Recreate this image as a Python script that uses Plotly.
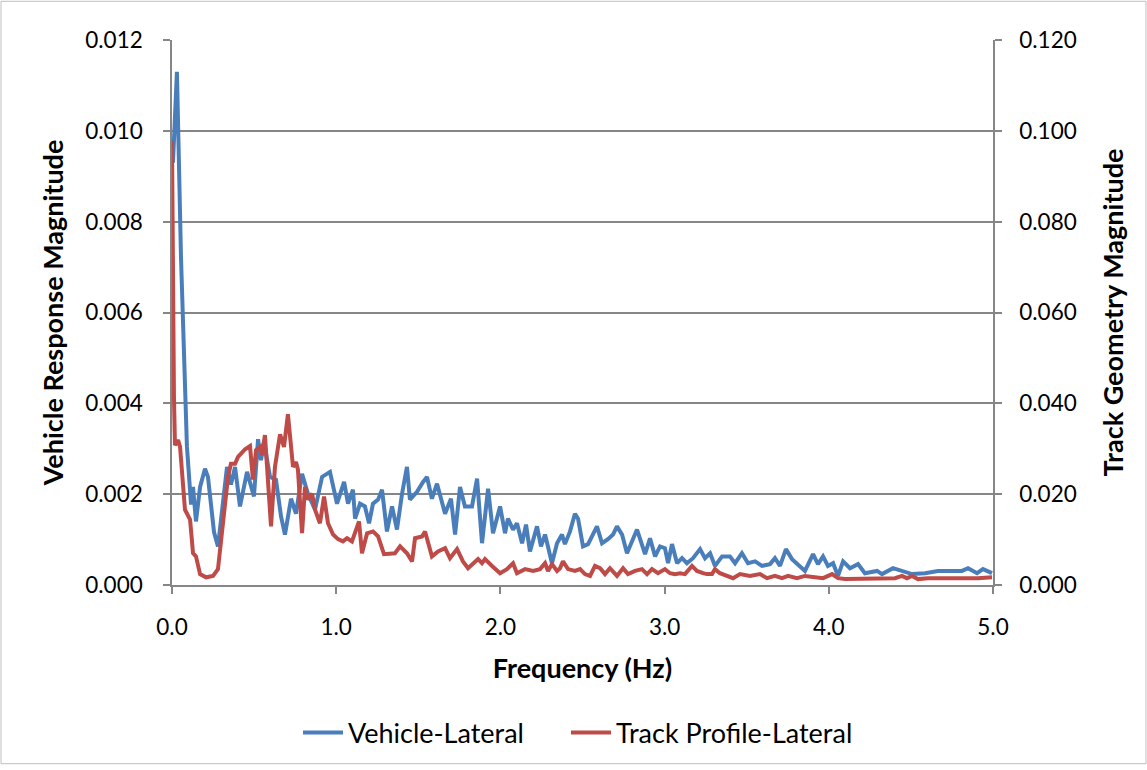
import plotly.graph_objects as go

# ---- Data ----
vehicle_freq = [0.006, 0.030, 0.055, 0.073, 0.091, 0.116, 0.128, 0.146, 0.171, 0.201, 0.219, 0.256, 0.280,
                0.335, 0.359, 0.384, 0.414, 0.457, 0.481, 0.499, 0.524, 0.542, 0.560, 0.597, 0.633, 0.664,
                0.688, 0.706, 0.725, 0.755, 0.792, 0.828, 0.871, 0.914, 0.950, 0.962, 1.005, 1.048, 1.072,
                1.102, 1.115, 1.145, 1.175, 1.200, 1.224, 1.255, 1.279, 1.309, 1.340, 1.370, 1.401, 1.431,
                1.449, 1.492, 1.529, 1.553, 1.583, 1.614, 1.663, 1.699, 1.724, 1.754, 1.784, 1.827, 1.858,
                1.888, 1.925, 1.955, 1.998, 2.028, 2.046, 2.077, 2.101, 2.132, 2.156, 2.180, 2.223, 2.247,
                2.272, 2.314, 2.345, 2.375, 2.393, 2.424, 2.454, 2.473, 2.503, 2.534, 2.588, 2.619, 2.655,
                2.686, 2.710, 2.741, 2.771, 2.832, 2.881, 2.911, 2.942, 2.972, 3.002, 3.021, 3.045, 3.076,
                3.106, 3.136, 3.173, 3.216, 3.246, 3.277, 3.307, 3.350, 3.398, 3.429, 3.471, 3.508, 3.551,
                3.593, 3.642, 3.672, 3.703, 3.739, 3.776, 3.825, 3.855, 3.904, 3.934, 3.965, 3.995, 4.026,
                4.056, 4.087, 4.129, 4.178, 4.220, 4.294, 4.324, 4.391, 4.446, 4.507, 4.586, 4.665, 4.750,
                4.811, 4.848, 4.903, 4.939, 4.994]
vehicle_mag = [0.00930, 0.01130, 0.00719, 0.00479, 0.00304, 0.00177, 0.00216, 0.00140, 0.00216, 0.00256,
               0.00238, 0.00116, 0.00085, 0.00260, 0.00221, 0.00260, 0.00173, 0.00249, 0.00221, 0.00195,
               0.00321, 0.00275, 0.00315, 0.00238, 0.00232, 0.00151, 0.00111, 0.00151, 0.00190, 0.00157,
               0.00245, 0.00201, 0.00166, 0.00238, 0.00245, 0.00249, 0.00179, 0.00227, 0.00179, 0.00210,
               0.00146, 0.00179, 0.00173, 0.00136, 0.00179, 0.00188, 0.00210, 0.00118, 0.00173, 0.00122,
               0.00201, 0.00260, 0.00188, 0.00205, 0.00227, 0.00238, 0.00190, 0.00223, 0.00157, 0.00190,
               0.00111, 0.00216, 0.00173, 0.00173, 0.00234, 0.00092, 0.00212, 0.00114, 0.00173, 0.00114,
               0.00146, 0.00122, 0.00136, 0.00092, 0.00133, 0.00074, 0.00129, 0.00085, 0.00111, 0.00048,
               0.00092, 0.00111, 0.00090, 0.00118, 0.00157, 0.00146, 0.00085, 0.00090, 0.00129, 0.00092,
               0.00101, 0.00111, 0.00129, 0.00111, 0.00070, 0.00122, 0.00068, 0.00103, 0.00063, 0.00085,
               0.00081, 0.00048, 0.00090, 0.00048, 0.00059, 0.00048, 0.00059, 0.00079, 0.00059, 0.00070,
               0.00042, 0.00063, 0.00063, 0.00048, 0.00070, 0.00048, 0.00052, 0.00042, 0.00046, 0.00059,
               0.00042, 0.00079, 0.00057, 0.00042, 0.00031, 0.00068, 0.00046, 0.00063, 0.00042, 0.00048,
               0.00020, 0.00052, 0.00037, 0.00046, 0.00026, 0.00031, 0.00024, 0.00037, 0.00031, 0.00024,
               0.00026, 0.00031, 0.00031, 0.00031, 0.00037, 0.00026, 0.00035, 0.00026]

track_freq = [0.000, 0.006, 0.012, 0.018, 0.037, 0.049, 0.079, 0.110, 0.128, 0.146, 0.171, 0.207, 0.250,
              0.280, 0.298, 0.323, 0.341, 0.359, 0.384, 0.402, 0.445, 0.475, 0.493, 0.512, 0.536, 0.548,
              0.566, 0.603, 0.627, 0.658, 0.682, 0.706, 0.737, 0.755, 0.767, 0.792, 0.810, 0.828, 0.853,
              0.871, 0.901, 0.926, 0.950, 0.981, 1.011, 1.041, 1.066, 1.096, 1.115, 1.139, 1.157, 1.188,
              1.224, 1.255, 1.291, 1.328, 1.358, 1.389, 1.431, 1.462, 1.480, 1.523, 1.541, 1.583, 1.620,
              1.663, 1.693, 1.736, 1.772, 1.803, 1.833, 1.864, 1.888, 1.906, 1.949, 1.998, 2.040, 2.077,
              2.101, 2.150, 2.199, 2.241, 2.272, 2.290, 2.314, 2.345, 2.363, 2.381, 2.412, 2.454, 2.485,
              2.515, 2.546, 2.576, 2.607, 2.637, 2.667, 2.710, 2.747, 2.777, 2.820, 2.862, 2.893, 2.923,
              2.960, 3.002, 3.033, 3.063, 3.094, 3.124, 3.167, 3.197, 3.234, 3.258, 3.289, 3.307, 3.337,
              3.380, 3.417, 3.459, 3.520, 3.581, 3.624, 3.672, 3.715, 3.752, 3.806, 3.855, 3.904, 3.965,
              4.020, 4.056, 4.099, 4.141, 4.178, 4.239, 4.300, 4.342, 4.403, 4.446, 4.476, 4.507, 4.543,
              4.604, 4.665, 4.726, 4.787, 4.848, 4.909, 4.994]
track_mag = [0.0977, 0.0632, 0.0413, 0.0308, 0.0319, 0.0304, 0.0166, 0.0144, 0.0070, 0.0063, 0.0024, 0.0017,
             0.0020, 0.0035, 0.0092, 0.0188, 0.0238, 0.0267, 0.0267, 0.0282, 0.0299, 0.0306, 0.0232, 0.0297,
             0.0304, 0.0286, 0.0330, 0.0129, 0.0260, 0.0332, 0.0304, 0.0376, 0.0260, 0.0271, 0.0254, 0.0114,
             0.0216, 0.0188, 0.0201, 0.0166, 0.0136, 0.0195, 0.0136, 0.0111, 0.0101, 0.0096, 0.0103, 0.0096,
             0.0114, 0.0140, 0.0070, 0.0114, 0.0118, 0.0107, 0.0068, 0.0068, 0.0070, 0.0085, 0.0070, 0.0052,
             0.0103, 0.0107, 0.0118, 0.0063, 0.0074, 0.0081, 0.0059, 0.0079, 0.0052, 0.0037, 0.0048, 0.0057,
             0.0048, 0.0057, 0.0042, 0.0026, 0.0035, 0.0048, 0.0026, 0.0035, 0.0031, 0.0035, 0.0048, 0.0031,
             0.0046, 0.0031, 0.0037, 0.0052, 0.0035, 0.0031, 0.0035, 0.0024, 0.0020, 0.0042, 0.0037, 0.0024,
             0.0037, 0.0020, 0.0037, 0.0024, 0.0031, 0.0035, 0.0024, 0.0035, 0.0026, 0.0035, 0.0026, 0.0024,
             0.0026, 0.0024, 0.0042, 0.0031, 0.0026, 0.0024, 0.0024, 0.0035, 0.0026, 0.0020, 0.0015, 0.0024,
             0.0020, 0.0024, 0.0015, 0.0020, 0.0015, 0.0020, 0.0015, 0.0020, 0.0017, 0.0015, 0.0024, 0.0015,
             0.0013, 0.0013, 0.0015, 0.0013, 0.0013, 0.0015, 0.0015, 0.0020, 0.0015, 0.0020, 0.0013, 0.0015,
             0.0015, 0.0013, 0.0015, 0.0013, 0.0015, 0.0017]

x_ticks = [0, 1, 2, 3, 4, 5]
left_ticks = [0.000, 0.002, 0.004, 0.006, 0.008, 0.010, 0.012]
right_ticks = [0.000, 0.020, 0.040, 0.060, 0.080, 0.100, 0.120]

BLUE = "#4A7EBB"
RED = "#BE4B48"
GRID = "#868686"
FONT = "Lato"
TICK_SIZE = 22.5
TITLE_SIZE = 27

fig = go.Figure()
fig.add_trace(go.Scatter(x=vehicle_freq, y=vehicle_mag, mode="lines", name="Vehicle-Lateral",
                         line=dict(color=BLUE, width=4), yaxis="y", legend="legend"))
fig.add_trace(go.Scatter(x=track_freq, y=track_mag, mode="lines", name="Track Profile-Lateral",
                         line=dict(color=RED, width=4), yaxis="y2", legend="legend2"))

W, H = 1147, 770
ml, mr, mt, mb = 172, 154, 40, 181
pw, ph = W - ml - mr, H - mt - mb
leg_y = (mt + ph - 738) / ph

fig.update_layout(
    width=W, height=H,
    margin=dict(l=ml, r=mr, t=mt, b=mb, pad=0),
    paper_bgcolor="white", plot_bgcolor="white",
    font=dict(family=FONT, size=TICK_SIZE, color="black"),
    showlegend=True,
    legend=dict(orientation="h", x=(298 - ml) / pw, xanchor="left", y=leg_y, yanchor="middle",
                font=dict(family=FONT, size=TITLE_SIZE), itemwidth=40),
    legend2=dict(orientation="h", x=(566 - ml) / pw, xanchor="left", y=leg_y, yanchor="middle",
                 font=dict(family=FONT, size=TITLE_SIZE), itemwidth=40),
    xaxis=dict(range=[0, 5], tickvals=x_ticks, tickformat=".1f", showgrid=False, zeroline=False,
               showline=True, linecolor=GRID, linewidth=1.5, ticks="outside", ticklen=7,
               tickcolor=GRID, tickwidth=1.5, ticklabelstandoff=14,
               title=dict(text="<b>Frequency (Hz)</b>", standoff=20, font=dict(size=TITLE_SIZE))),
    yaxis=dict(range=[0, 0.012], tickvals=left_ticks, tickformat=".3f", showgrid=True, gridcolor=GRID,
               gridwidth=1.5, zeroline=False, showline=True, linecolor=GRID, linewidth=1.5,
               ticks="outside", ticklen=7, tickcolor=GRID, tickwidth=1.5, ticklabelstandoff=16,
               title=dict(text="<b>Vehicle Response Magnitude</b>", standoff=14, font=dict(size=TITLE_SIZE))),
    yaxis2=dict(range=[0, 0.12], tickvals=right_ticks, tickformat=".3f", overlaying="y", side="right",
                showgrid=False, zeroline=False, showline=True, linecolor=GRID, linewidth=1.5,
                ticks="outside", ticklen=7, tickcolor=GRID, tickwidth=1.5, ticklabelstandoff=13,
                title=dict(text="<b>Track Geometry Magnitude</b>", standoff=28, font=dict(size=TITLE_SIZE))),
    shapes=[dict(type="rect", xref="paper", yref="paper",
                 x0=-(ml - 1) / pw, x1=1 + (mr - 1) / pw, y0=-(mb - 1) / ph, y1=1 + (mt - 1) / ph,
                 line=dict(color="#BFBFBF", width=1), fillcolor="rgba(0,0,0,0)", layer="below")],
)

fig.write_html("out.html")
